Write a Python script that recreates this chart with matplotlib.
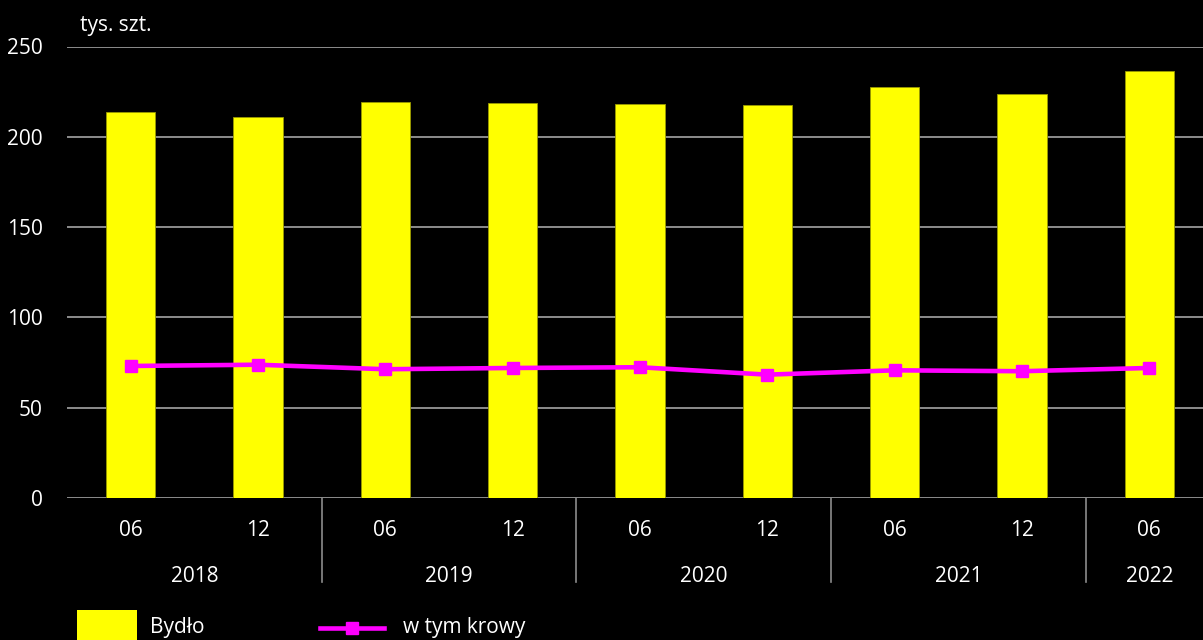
import matplotlib
matplotlib.use("Agg")
import matplotlib.pyplot as plt
from matplotlib.patches import Rectangle
from matplotlib.lines import Line2D
import matplotlib.transforms as mtransforms

months = ["06", "12", "06", "12", "06", "12", "06", "12", "06"]
years = ["2018", "2019", "2020", "2021", "2022"]
year_counts = [2, 2, 2, 2, 1]
bydlo = [213.6, 210.9, 219.3, 218.9, 218.2, 217.6, 227.3, 223.5, 236.4]
krowy = [73.1, 73.8, 71.3, 72.0, 72.4, 68.3, 70.7, 70.2, 72.0]
yticks = [0, 50, 100, 150, 200, 250]

W, H = 1203, 640
FS = 15
plt.rcParams['font.family'] = ['Open Sans', 'DejaVu Sans']
fig = plt.figure(figsize=(W / 100, H / 100), dpi=100, facecolor="black")

left_px, right_px, bottom_px, top_px = 67, 1213, 498, 46.5
ax = fig.add_axes([left_px / W, 1 - bottom_px / H, (right_px - left_px) / W, (bottom_px - top_px) / H])
ax.set_facecolor("black")

x = list(range(len(bydlo)))
ax.bar(x, bydlo, width=0.39, color="#FFFF00", edgecolor="#9a9a00", linewidth=0.6, zorder=2)
ax.plot(x, krowy, color="#FF00FF", linewidth=3.3, marker="s", markersize=9, zorder=3)

ax.set_xlim(-0.5, len(bydlo) - 0.5)
ax.set_ylim(0, 250)
ax.set_yticks(yticks)
ax.set_yticklabels([str(v) for v in yticks], color="white", fontsize=FS)
ax.tick_params(axis="y", length=0, pad=17.5)
ax.set_xticks([])
for s in ax.spines.values():
    s.set_visible(False)
for v in yticks:
    ax.axhline(v, color="#8c8c8c", linewidth=1.4, zorder=1)

trans = mtransforms.blended_transform_factory(ax.transData, ax.transAxes)
axh = bottom_px - top_px
def ay(px):
    return (bottom_px - px) / axh

for i, m in enumerate(months):
    ax.text(i, ay(530), m, transform=trans, ha="center", va="center", color="white", fontsize=FS)

pos = 0
for yr, c in zip(years, year_counts):
    center = pos + (c - 1) / 2
    ax.text(center, ay(577), yr, transform=trans, ha="center", va="center", color="white", fontsize=FS)
    pos += c
    if pos < len(bydlo):
        ax.add_line(Line2D([pos - 0.5, pos - 0.5], [0, ay(582)], transform=trans,
                           color="#8c8c8c", linewidth=1.2, clip_on=False))

fig.text(80 / W, 1 - 25 / H, "tys. szt.", color="white", fontsize=FS, ha="left", va="center")

# legend
fig.patches.append(Rectangle((77 / W, 1 - 650 / H), 60 / W, 40 / H, transform=fig.transFigure,
                             facecolor="#FFFF00", edgecolor="none"))
fig.text(150 / W, 1 - 628 / H, "Bydło", color="white", fontsize=FS, ha="left", va="center")
fig.lines.append(Line2D([320 / W, 384 / W], [1 - 628 / H, 1 - 628 / H], transform=fig.transFigure,
                        color="#FF00FF", linewidth=3.3))
fig.lines.append(Line2D([352 / W], [1 - 628 / H], transform=fig.transFigure,
                        color="#FF00FF", marker="s", markersize=9, linestyle="none"))
fig.text(403 / W, 1 - 628 / H, "w tym krowy", color="white", fontsize=FS, ha="left", va="center")

fig.savefig("out.png", dpi=100, facecolor="black")
